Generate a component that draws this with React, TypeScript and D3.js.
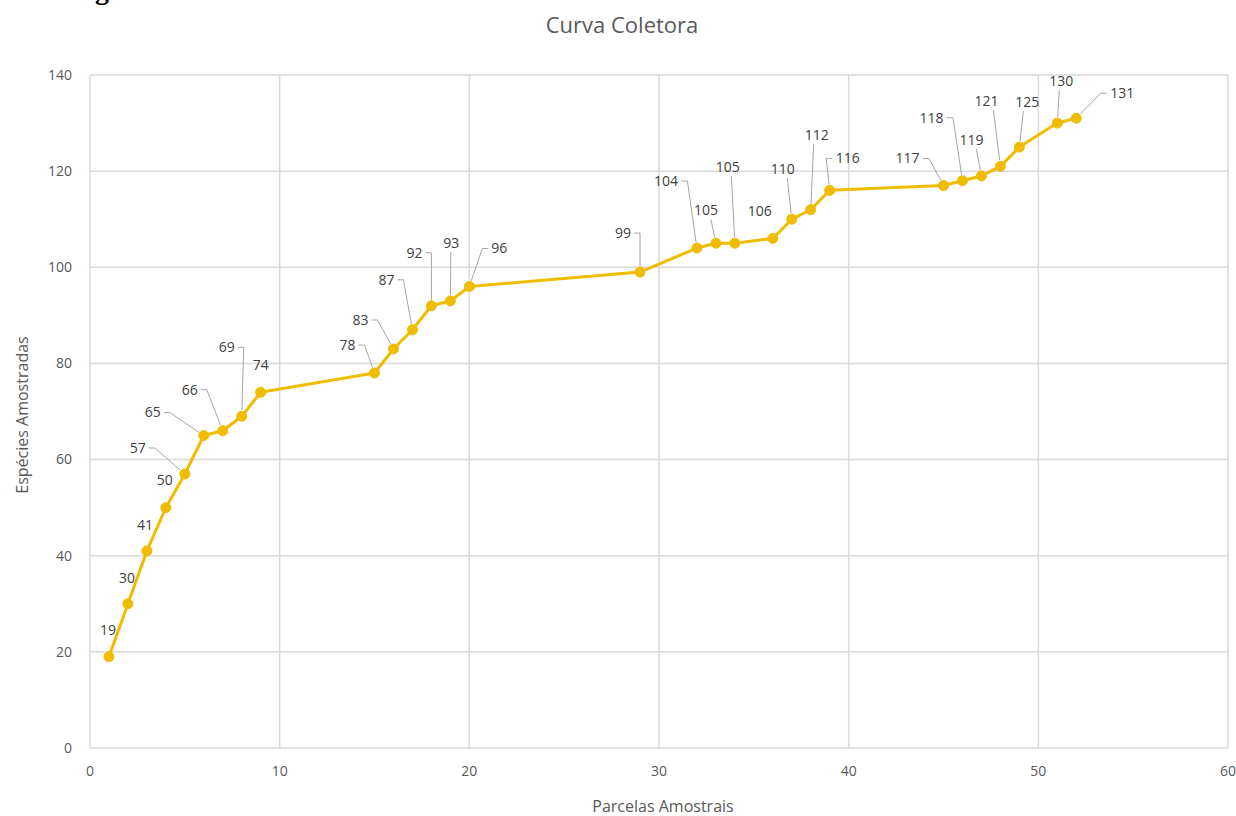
import React from 'react';
import * as d3 from 'd3';

// Curva coletora: parcelas amostrais x espécies acumuladas
const parcelas = [1, 2, 3, 4, 5, 6, 7, 8, 9, 15, 16, 17, 18, 19, 20, 29, 32, 33, 34, 36, 37, 38, 39, 45, 46, 47, 48, 49, 51, 52];
const especies = [19, 30, 41, 50, 57, 65, 66, 69, 74, 78, 83, 87, 92, 93, 96, 99, 104, 105, 105, 106, 110, 112, 116, 117, 118, 119, 121, 125, 130, 131];

// where Excel dropped each data label, relative to its point (px)
const labelOffsets: [number, number][] = [
  [-1, -27], [-1, -26], [-2, -26], [-1, -28], [-47, -26], [-51, -23], [-33, -41], [-15, -69], [0, -27],
  [-27, -28], [-33, -29], [-26, -50], [-17, -53], [1, -58], [30, -38],
  [-17, -39], [-31, -67], [-10, -33], [-7, -76], [-13, -27], [-9, -50], [6, -75], [18, -32],
  [-36, -27], [-31, -63], [-10, -36], [-14, -65], [8, -45], [4, -42], [46, -25],
];

const xTicks = [0, 10, 20, 30, 40, 50, 60];
const yTicks = [0, 20, 40, 60, 80, 100, 120, 140];

const title = 'Curva Coletora';
const xTitle = 'Parcelas Amostrais';
const yTitle = 'Espécies Amostradas';

const width = 1236;
const height = 816;
const margin = { top: 75, right: 8, bottom: 68, left: 90 };

const gold = '#F0BC00';
const grid = '#D9D9D9';
const textCol = '#595959';
const font = "'Open Sans', sans-serif";

const App: React.FC = () => {
  const x = d3.scaleLinear().domain([0, 60]).range([margin.left, width - margin.right]);
  const y = d3.scaleLinear().domain([0, 140]).range([height - margin.bottom, margin.top]);

  const pts = parcelas.map((p, i) => ({ p, e: especies[i], px: x(p), py: y(especies[i]) }));
  const line = d3.line<typeof pts[0]>().x(d => d.px).y(d => d.py);

  // leader line from label edge to the point, like Excel does
  const leader = (px: number, py: number, cx: number, cy: number, txt: string) => {
    const dist = Math.hypot(cx - px, cy - py);
    if (dist < 34) return null;
    const hw = txt.length * 4.5 + 2;
    let sx: number, sy: number, mx: number, my: number;
    if (px > cx + hw) {
      sx = cx + hw; sy = cy; mx = sx + 6; my = sy;
    } else if (px < cx - hw) {
      sx = cx - hw; sy = cy; mx = sx - 6; my = sy;
    } else {
      sx = cx + (px - cx) * 0.5; sy = cy + 9; mx = sx; my = sy;
    }
    const ang = Math.atan2(my - py, mx - px);
    const ex = px + Math.cos(ang) * 6;
    const ey = py + Math.sin(ang) * 6;
    return `M${sx},${sy}L${mx},${my}L${ex},${ey}`;
  };

  return (
    <div style={{ position: 'fixed', left: 0, top: 0 }}>
      <svg width={width} height={height} style={{ display: 'block', background: 'white' }}>
        {/* cut-off caption from the page above, only the descender shows */}
        <text x={70} y={-1} fontFamily="'Liberation Serif', serif" fontWeight="bold" fontSize={28} fill="#000">Figura</text>

        <text x={622} y={33} textAnchor="middle" fontFamily={font} fontSize={22} fill={textCol}>{title}</text>

        {/* gridlines */}
        {yTicks.map(t => (
          <line key={'gy' + t} x1={x(0)} x2={x(60)} y1={y(t)} y2={y(t)} stroke={grid} strokeWidth={1.5} />
        ))}
        {xTicks.map(t => (
          <line key={'gx' + t} x1={x(t)} x2={x(t)} y1={y(0)} y2={y(140)} stroke={grid} strokeWidth={1.5} />
        ))}

        {/* tick labels */}
        {yTicks.map(t => (
          <text key={'ty' + t} x={x(0) - 18} y={y(t)} dy="0.35em" textAnchor="end" fontFamily={font} fontSize={14} fill={textCol}>{t}</text>
        ))}
        {xTicks.map(t => (
          <text key={'tx' + t} x={x(t)} y={y(0) + 28} textAnchor="middle" fontFamily={font} fontSize={14} fill={textCol}>{t}</text>
        ))}

        <text x={663} y={812} textAnchor="middle" fontFamily={font} fontSize={16} fill={textCol}>{xTitle}</text>
        <text transform={`translate(28,415) rotate(-90)`} textAnchor="middle" fontFamily={font} fontSize={16} fill={textCol}>{yTitle}</text>

        {/* leader lines */}
        {pts.map((d, i) => {
          const [dx, dy] = labelOffsets[i];
          const path = leader(d.px, d.py, d.px + dx, d.py + dy, String(d.e));
          return path ? <path key={'l' + i} d={path} fill="none" stroke="#A6A6A6" strokeWidth={1} /> : null;
        })}

        <path d={line(pts) || ''} fill="none" stroke={gold} strokeWidth={3} strokeLinejoin="round" />
        {pts.map((d, i) => (
          <circle key={'c' + i} cx={d.px} cy={d.py} r={5} fill={gold} stroke={gold} strokeWidth={1} />
        ))}

        {pts.map((d, i) => {
          const [dx, dy] = labelOffsets[i];
          return (
            <text key={'d' + i} x={d.px + dx} y={d.py + dy} dy="0.35em" textAnchor="middle" fontFamily={font} fontSize={14} fill="#404040">{d.e}</text>
          );
        })}
      </svg>
    </div>
  );
};

export default App;
